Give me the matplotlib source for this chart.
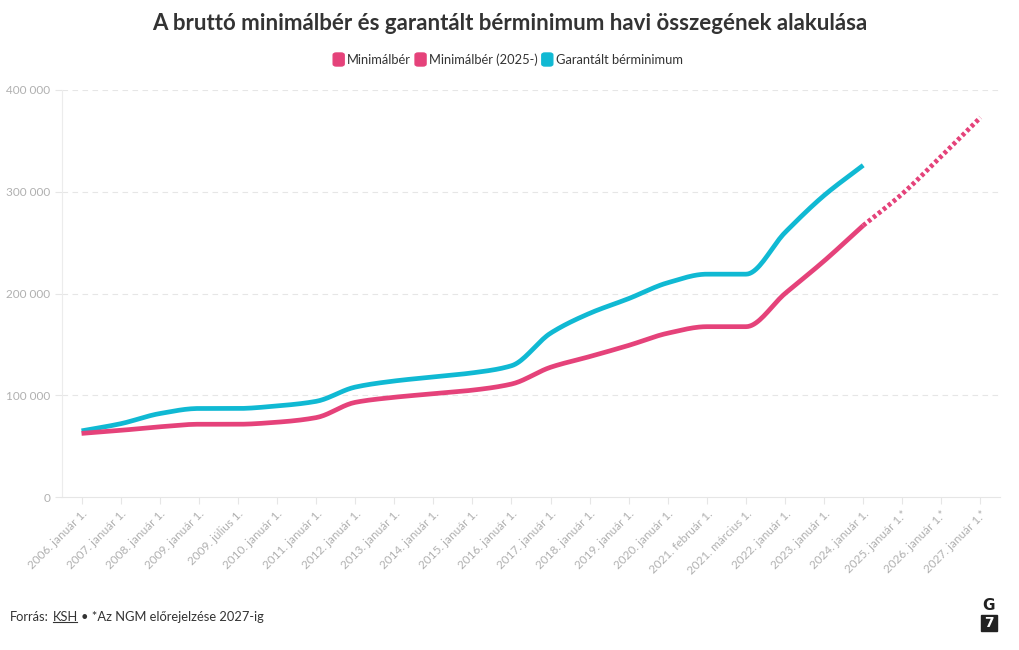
import numpy as np
import matplotlib
matplotlib.use("Agg")
import matplotlib.pyplot as plt
from matplotlib.patches import FancyBboxPatch, Rectangle
from matplotlib.lines import Line2D

plt.rcParams['font.family'] = ['Lato', 'DejaVu Sans']

labels = ['2006. január 1.', '2007. január 1.', '2008. január 1.', '2009. január 1.',
          '2009. július 1.', '2010. január 1.', '2011. január 1.', '2012. január 1.',
          '2013. január 1.', '2014. január 1.', '2015. január 1.', '2016. január 1.',
          '2017. január 1.', '2018. január 1.', '2019. január 1.', '2020. január 1.',
          '2021. február 1.', '2021. március 1.', '2022. január 1.', '2023. január 1.',
          '2024. január 1.', '2025. január 1.*', '2026. január 1.*', '2027. január 1.*']

# Minimálbér (up to 2024)
minimalber = [62500, 65500, 69000, 71500, 71500, 73500, 78000, 93000, 98000, 101500,
              105000, 111000, 127500, 138000, 149000, 161000, 167400, 167400, 200000,
              232000, 266800]
# Minimálbér (2025-) forecast, starting from 2024 to connect
minimalber_2025 = [266800, 298000, 335000, 373000]
# Garantált bérminimum (up to 2024)
garantalt = [65000, 72000, 82000, 87000, 87000, 89500, 94000, 108000, 114000, 118000,
             122000, 129000, 161000, 180500, 195000, 210600, 219000, 219000, 260000,
             296400, 326000]

pink = '#e5427a'
cyan = '#10b9d3'


def smooth(x, y, n=20):
    # monotone cubic (Fritsch-Carlson) for drawing a smooth path through the points
    x = np.asarray(x, float)
    y = np.asarray(y, float)
    h = np.diff(x)
    d = np.diff(y) / h
    m = np.zeros_like(y)
    m[0] = d[0]
    m[-1] = d[-1]
    for i in range(1, len(y) - 1):
        if d[i - 1] * d[i] <= 0:
            m[i] = 0
        else:
            w1 = 2 * h[i] + h[i - 1]
            w2 = h[i] + 2 * h[i - 1]
            m[i] = (w1 + w2) / (w1 / d[i - 1] + w2 / d[i])
    xs, ys = [], []
    for i in range(len(x) - 1):
        t = np.linspace(0, 1, n, endpoint=(i == len(x) - 2))
        h00 = 2 * t**3 - 3 * t**2 + 1
        h10 = t**3 - 2 * t**2 + t
        h01 = -2 * t**3 + 3 * t**2
        h11 = t**3 - t**2
        xs.append(x[i] + t * h[i])
        ys.append(h00 * y[i] + h10 * h[i] * m[i] + h01 * y[i + 1] + h11 * h[i] * m[i + 1])
    return np.concatenate(xs), np.concatenate(ys)


fig = plt.figure(figsize=(10.2, 6.5), dpi=100)
ax = fig.add_axes([62 / 1020, 153 / 650, 938 / 1020, 407 / 650])

x1 = np.arange(len(minimalber))
x2 = np.arange(len(minimalber) - 1, len(minimalber) - 1 + len(minimalber_2025))

sx, sy = smooth(x1, garantalt)
ax.plot(sx, sy, color=cyan, lw=3.4, solid_capstyle='butt', zorder=3)
sx, sy = smooth(x1, minimalber)
ax.plot(sx, sy, color=pink, lw=3.4, solid_capstyle='butt', zorder=3)
sx, sy = smooth(x2, minimalber_2025)
ax.plot(sx, sy, color=pink, lw=3.4, linestyle=(0, (0.75, 0.6)), dash_capstyle='butt', zorder=3)

ax.set_xlim(-0.5, len(labels) - 0.5)
ax.set_ylim(0, 400000)
ax.set_xticks(np.arange(len(labels)))
ax.set_xticklabels(labels, rotation=45, ha='right', rotation_mode='anchor')
ax.set_yticks([0, 100000, 200000, 300000, 400000])
ax.set_yticklabels(['0', '100 000', '200 000', '300 000', '400 000'])
ax.tick_params(axis='both', colors='#e6e6e6', labelcolor='#b0b0b0', labelsize=8.5, length=5, width=0.8)
ax.tick_params(axis='x', pad=3)

for v in [100000, 200000, 300000, 400000]:
    ax.axhline(v, color='#e6e6e6', lw=0.8, linestyle=(0, (5, 4)), zorder=1)

for s in ['top', 'right']:
    ax.spines[s].set_visible(False)
ax.spines['left'].set_color('#ececec')
ax.spines['bottom'].set_color('#e6e6e6')

fig.text(0.5, 1 - 24 / 650, 'A bruttó minimálbér és garantált bérminimum havi összegének alakulása',
         ha='center', va='center', fontsize=16, fontweight='bold', color='#333333')

# legend
legend_items = [('Minimálbér', pink), ('Minimálbér (2025-)', pink), ('Garantált bérminimum', cyan)]
fig.canvas.draw()
r = fig.canvas.get_renderer()
texts = []
widths = []
for name, c in legend_items:
    t = fig.text(0, 1 - 60 / 650, name, fontsize=9.3, color='#333333', va='center')
    w = t.get_window_extent(r).width
    texts.append(t)
    widths.append(w)
sq = 11
gap = 3
sep = 4
total = sum(widths) + len(widths) * (sq + gap) + sep * (len(widths) - 1)
xpos = 508 - total / 2
for (name, c), t, w in zip(legend_items, texts, widths):
    fig.patches.append(FancyBboxPatch((xpos / 1020, (650 - 66) / 650), sq / 1020, 13 / 650,
                                      boxstyle='round,pad=0,rounding_size=0.003',
                                      transform=fig.transFigure, color=c, figure=fig))
    t.set_x((xpos + sq + gap) / 1020)
    xpos += sq + gap + w + sep

# footer
y_f = 1 - 617 / 650
fs = 9.3
t1 = fig.text(10 / 1020, y_f, 'Forrás:', fontsize=fs, color='#333333', va='center')
w1 = t1.get_window_extent(r).width
t2 = fig.text((10 + w1 + 4) / 1020, y_f, 'KSH', fontsize=fs, color='#333333', va='center')
bb = t2.get_window_extent(r)
fig.lines.append(Line2D([bb.x0 / 1020, (bb.x1 - 1) / 1020], [(bb.y0 + 1) / 650] * 2, color='#333333',
                        lw=0.8, transform=fig.transFigure))
fig.text((bb.x1 + 3) / 1020, y_f, '• *Az NGM előrejelzése 2027-ig', fontsize=fs, color='#333333', va='center')

# G7 logo
fig.text(989 / 1020, 1 - 605 / 650, 'G', fontsize=11, fontweight='bold', color='#222222',
         ha='center', va='center', family='DejaVu Sans')
fig.patches.append(Rectangle((981 / 1020, (650 - 631) / 650), 16 / 1020, 16 / 650,
                             transform=fig.transFigure, color='#222222', figure=fig))
fig.text(989 / 1020, 1 - 623 / 650, '7', fontsize=10, fontweight='bold', color='white',
         ha='center', va='center', family='DejaVu Sans')

fig.savefig('out.png', dpi=100)
